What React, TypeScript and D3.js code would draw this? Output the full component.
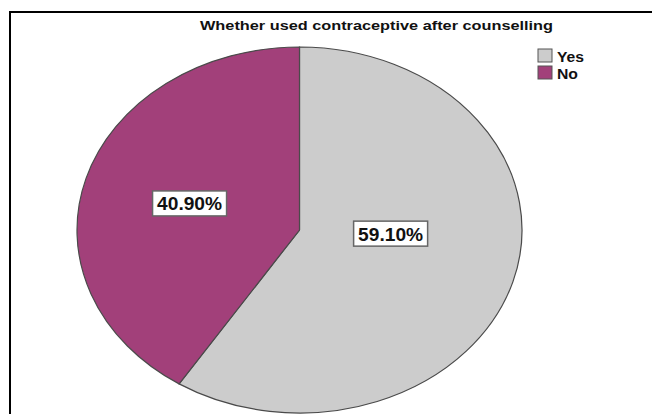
import * as d3 from "d3";
import { useEffect, useRef } from "react";

// chart data
const categories: string[] = ["Yes", "No"];
const percents: number[] = [59.1, 40.9];
const labels: string[] = ["59.10%", "40.90%"];
const colors: string[] = ["#cccccc", "#a2407a"];
const title = "Whether used contraceptive after counselling";

// layout
const width = 652;
const height = 414;
const cx = 299.5;
const cy = 230;
const rx = 222.5;
const ry = 183;
// label radius (fraction of radius) and angular nudge (deg) per slice
const labelR = [0.41, 0.515];
const labelTurn = [-13.6, 0];

export default function App() {
  const svgRef = useRef<SVGSVGElement>(null);

  useEffect(() => {
    const svg = d3.select(svgRef.current);
    svg.selectAll("*").remove();

    // frame (extends beyond right/bottom edge)
    svg
      .append("rect")
      .attr("x", 10)
      .attr("y", 12)
      .attr("width", 700)
      .attr("height", 500)
      .attr("fill", "#fff")
      .attr("stroke", "#000")
      .attr("stroke-width", 2);

    // title
    svg
      .append("text")
      .attr("x", 376.5)
      .attr("y", 30)
      .attr("text-anchor", "middle")
      .attr("font-family", "Liberation Sans, Arial, sans-serif")
      .attr("font-weight", "bold")
      .attr("font-size", 13)
      .attr("textLength", 353)
      .attr("lengthAdjust", "spacingAndGlyphs")
      .attr("fill", "#111")
      .text(title);

    const pie = d3
      .pie<number>()
      .sort(null)
      .value((d) => d)
      .startAngle(0)
      .endAngle(2 * Math.PI);
    const arcs = pie(percents);

    const arc = d3.arc<d3.PieArcDatum<number>>().innerRadius(0).outerRadius(ry);

    // elliptical pie: draw circle then stretch horizontally
    const g = svg
      .append("g")
      .attr("transform", `translate(${cx},${cy}) scale(${rx / ry},1)`);

    g.selectAll("path")
      .data(arcs)
      .enter()
      .append("path")
      .attr("d", arc)
      .attr("fill", (_, i) => colors[i])
      .attr("stroke", "#4a4a4a")
      .attr("stroke-width", 1.2)
      .attr("vector-effect", "non-scaling-stroke");

    // value labels
    arcs.forEach((a, i) => {
      const ang = (a.startAngle + a.endAngle) / 2 + (labelTurn[i] * Math.PI) / 180;
      const x = cx + Math.sin(ang) * rx * labelR[i];
      const y = cy - Math.cos(ang) * ry * labelR[i];
      const lg = svg.append("g").attr("transform", `translate(${x},${y})`);
      lg.append("rect")
        .attr("x", -37)
        .attr("y", -12.5)
        .attr("width", 74)
        .attr("height", 25)
        .attr("fill", "#fff")
        .attr("stroke", "#666")
        .attr("stroke-width", 1.5);
      lg.append("text")
        .attr("x", 0)
        .attr("y", 7)
        .attr("text-anchor", "middle")
        .attr("font-family", "Liberation Sans, Arial, sans-serif")
        .attr("font-weight", "bold")
        .attr("font-size", 17.5)
        .attr("textLength", 65)
        .attr("lengthAdjust", "spacingAndGlyphs")
        .attr("fill", "#111")
        .text(labels[i]);
    });

    // legend
    const legend = svg.append("g").attr("transform", "translate(538,49)");
    const legendW = [27, 21];
    categories.forEach((c, i) => {
      const row = legend.append("g").attr("transform", `translate(0,${i * 17})`);
      row
        .append("rect")
        .attr("x", 0)
        .attr("y", 0)
        .attr("width", 14)
        .attr("height", 13)
        .attr("fill", colors[i])
        .attr("stroke", "#555")
        .attr("stroke-width", 1);
      row
        .append("text")
        .attr("x", 19)
        .attr("y", 13)
        .attr("font-family", "Liberation Sans, Arial, sans-serif")
        .attr("font-weight", "bold")
        .attr("font-size", 14)
        .attr("textLength", legendW[i])
        .attr("lengthAdjust", "spacingAndGlyphs")
        .attr("fill", "#111")
        .text(c);
    });
  }, []);

  return (
    <svg
      ref={svgRef}
      width={width}
      height={height}
      style={{ position: "absolute", left: 0, top: 0, background: "#fff" }}
    />
  );
}
